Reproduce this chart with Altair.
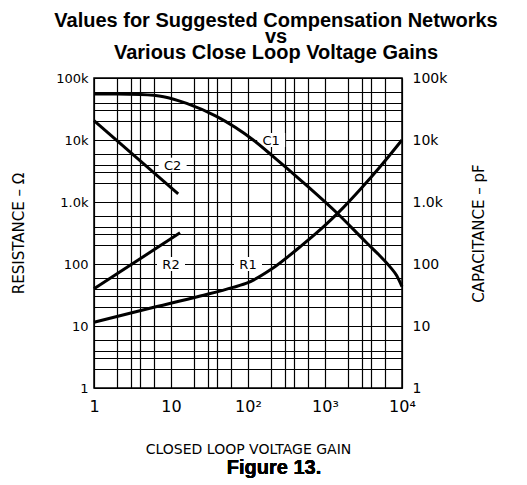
import altair as alt
import pandas as pd

# ---- data ----
c1_gain = [1, 2, 4, 8, 16, 39, 117, 213, 473, 1420, 3470, 5180, 7000, 8520, 10000]
c1_pf = [55000, 55000, 54000, 50000, 39000, 24000, 10000, 5400, 2300, 670, 220, 135, 90, 65, 43]

c2_gain = [1, 12.4]
c2_pf = [20500, 1350]

r1_gain = [1, 5, 24, 64, 100, 200, 500, 1000, 1500, 3000, 5000, 10000]
r1_ohm = [11.5, 19, 30.5, 42, 50, 82, 200, 420, 680, 1700, 3500, 10000]

r2_gain = [1, 13.1]
r2_ohm = [40, 318]

label_names = ["C1", "C2", "R1", "R2"]
label_gain = [200, 10.5, 100, 10]
label_value = [10000, 4000, 100, 100]

grid_x = [1, 2, 3, 4, 6, 10, 20, 30, 40, 60, 100, 200, 300, 400, 600,
          1000, 2000, 3000, 4000, 6000, 10000]
grid_y = [1, 2, 3, 4, 6, 10, 20, 30, 40, 60, 100, 200, 300, 400, 600,
          1000, 2000, 3000, 4000, 6000, 10000, 20000, 30000, 40000, 60000, 100000]

# ---- tables ----
res_df = pd.concat([
    pd.DataFrame({"gain": r1_gain, "value": r1_ohm, "series": "R1"}),
    pd.DataFrame({"gain": r2_gain, "value": r2_ohm, "series": "R2"}),
])
cap_df = pd.concat([
    pd.DataFrame({"gain": c1_gain, "value": c1_pf, "series": "C1"}),
    pd.DataFrame({"gain": c2_gain, "value": c2_pf, "series": "C2"}),
])
lab_df = pd.DataFrame({"name": label_names, "gain": label_gain, "value": label_value})

FONT = "DejaVu Sans"
BOLD = "Liberation Sans"

x_expr = ("datum.value==1?'1':datum.value==10?'10':datum.value==100?'10\u00b2':"
          "datum.value==1000?'10\u00b3':datum.value==10000?'10\u2074':''")
y_expr = ("datum.value==100000?'100k':datum.value==10000?'10k':datum.value==1000?'1.0k':"
          "datum.value==100?'100':datum.value==10?'10':datum.value==1?'1':''")

x_scale = alt.Scale(type="log", domain=[1, 10000], nice=False)
y_scale = alt.Scale(type="log", domain=[1, 100000], nice=False)

x_enc = alt.X("gain:Q", scale=x_scale,
              axis=alt.Axis(values=grid_x, labelExpr=x_expr, grid=True, ticks=False,
                            domain=False, labelFontSize=16, labelFont=FONT,
                            labelColor="black", labelPadding=10, labelFlush=False,
                            labelOverlap=False,
                            gridColor="black", gridWidth=1.2, gridOpacity=1,
                            title="CLOSED LOOP VOLTAGE GAIN", titleFont=FONT,
                            titleFontSize=14, titleFontWeight="normal",
                            titleColor="black", titlePadding=28))

left_axis = alt.Axis(values=grid_y, labelExpr=y_expr, grid=True, ticks=False, domain=False,
                     labelFontSize=13, labelFont=FONT, labelColor="black", labelPadding=6,
                     labelFlush=False, labelOverlap=False,
                     gridColor="black", gridWidth=1.2, gridOpacity=1,
                     title="RESISTANCE \u2013 \u03a9", titleFont=FONT, titleFontSize=15,
                     titleFontWeight="normal", titleColor="black", titlePadding=29)
right_axis = alt.Axis(values=grid_y, labelExpr=y_expr, grid=False, ticks=False, domain=False,
                      orient="right",
                      labelFontSize=14, labelFont=FONT, labelColor="black", labelPadding=10,
                      labelFlush=False, labelOverlap=False,
                      title="CAPACITANCE \u2013 pF", titleFont=FONT, titleFontSize=15,
                      titleFontWeight="normal", titleColor="black", titlePadding=40,
                      titleAngle=270)

res_lines = alt.Chart(res_df).mark_line(color="black", strokeWidth=3, interpolate="monotone").encode(
    x=x_enc,
    y=alt.Y("value:Q", scale=y_scale, axis=left_axis),
    detail="series:N",
)

boxes = alt.Chart(lab_df).mark_point(
    shape="M-1,-0.5H1V0.5H-1Z", filled=True, fill="white", opacity=1,
    strokeWidth=0, size=784,
).encode(x=x_enc, y=alt.Y("value:Q", scale=y_scale, axis=left_axis))

texts = alt.Chart(lab_df).mark_text(
    font=FONT, fontSize=13, color="black", align="center", baseline="middle", dy=1
).encode(x=x_enc, y=alt.Y("value:Q", scale=y_scale, axis=left_axis), text="name:N")

fig = alt.Chart(lab_df).mark_text(
    font=BOLD, fontSize=20, fontWeight="bold", color="black",
    align="center", baseline="alphabetic"
).encode(x=alt.value(180), y=alt.value(396), text=alt.value("Figure 13."))

cap_lines = alt.Chart(cap_df).mark_line(color="black", strokeWidth=3, interpolate="monotone").encode(
    x=x_enc,
    y=alt.Y("value:Q", scale=y_scale, axis=right_axis),
    detail="series:N",
)

left = alt.layer(boxes, res_lines, texts, fig)
chart = alt.layer(left, cap_lines).resolve_scale(y="independent").properties(
    width=308, height=310,
    autosize=alt.AutoSizeParams(type="none"),
    padding={"left": 86, "top": 70, "right": 110, "bottom": 90},
    title=alt.TitleParams(
        text=["Values for Suggested Compensation Networks", "vs",
              "Various Close Loop Voltage Gains"],
        font=BOLD, fontSize=20, fontWeight="bold", color="black",
        lineHeight=16, anchor="middle", frame="group", dx=28, offset=8,
    ),
).configure_view(stroke="black", strokeWidth=1.5)

chart.save("out.html", embed_options={"renderer": "svg", "actions": False})
